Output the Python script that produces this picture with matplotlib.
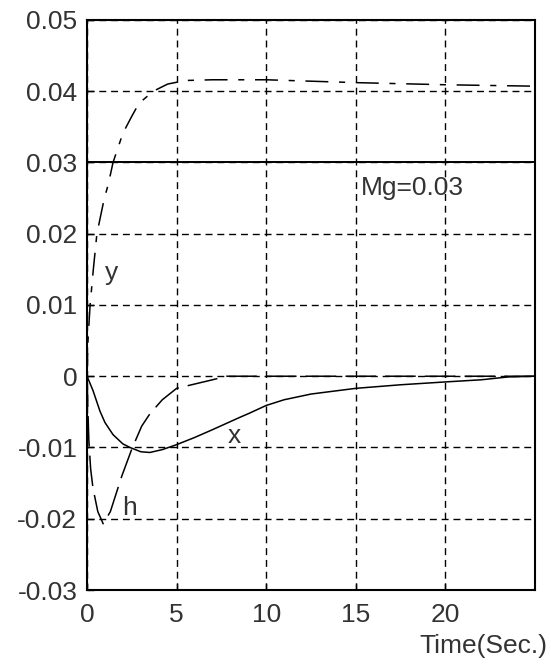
import matplotlib
matplotlib.use('Agg')
import matplotlib.pyplot as plt
import numpy as np

t_y = [0, 0.05, 0.17, 0.35, 0.55, 0.94, 1.2, 1.45, 2.0, 2.5, 2.9, 3.7, 4.5, 5.5, 7, 10, 15, 20, 25]
y_vals = [0, 0.005, 0.010, 0.015, 0.020, 0.0247, 0.0271, 0.030, 0.0341, 0.0365, 0.0383, 0.040,
          0.0410, 0.0415, 0.0416, 0.0416, 0.0412, 0.0409, 0.0407]

t_h = [0, 0.05, 0.1, 0.2, 0.33, 0.6, 0.9, 1.3, 1.94, 2.5, 3.05, 3.5, 4.2, 5.0, 6.0, 7.0, 7.8, 10, 15, 20, 25]
h_vals = [0, -0.005, -0.009, -0.013, -0.0157, -0.019, -0.0207, -0.019, -0.014, -0.0102, -0.0070,
          -0.0053, -0.0033, -0.0017, -0.0011, -0.0005, 0, 0, 0, 0, 0]

t_x = [0, 0.33, 0.72, 1.0, 1.45, 2.0, 2.4, 3.0, 3.5, 4.2, 5.0, 6.0, 7.0, 8.5, 9.05, 10, 11, 12.5,
       15, 17.5, 20, 22, 23.5, 25]
x_vals = [0, -0.002, -0.0049, -0.0065, -0.0082, -0.0095, -0.0100, -0.0106, -0.0107, -0.0103,
          -0.0096, -0.0086, -0.0075, -0.0058, -0.0052, -0.0041, -0.0033, -0.0025, -0.0017,
          -0.0012, -0.0008, -0.0005, -0.0001, 0]

mg = 0.03
xticks = [0, 5, 10, 15, 20]
yticks = [0.05, 0.04, 0.03, 0.02, 0.01, 0, -0.01, -0.02, -0.03]
ytick_labels = ['0.05', '0.04', '0.03', '0.02', '0.01', '0', '-0.01', '-0.02', '-0.03']

plt.rcParams['font.family'] = ['Liberation Sans', 'DejaVu Sans']
fs = 19
tc = '#333333'

fig = plt.figure(figsize=(5.51, 6.66), dpi=100)
ax = fig.add_axes([0.158, 0.1141, 0.813, 0.856])

ax.plot(t_y, y_vals, color='k', lw=1.1, dashes=(15, 7, 4, 7))
ax.plot(t_h, h_vals, color='k', lw=1.1, dashes=(20, 6))
ax.plot(t_x, x_vals, color='k', lw=1.1)
ax.axhline(mg, color='k', lw=1.4)

ax.set_xlim(0, 25)
ax.set_ylim(-0.03, 0.05)
ax.set_xticks(xticks)
ax.set_xticklabels([str(v) for v in xticks])
ax.set_yticks(yticks)
ax.set_yticklabels(ytick_labels)
ax.tick_params(direction='in', length=5, width=1, labelsize=fs, labelcolor=tc)
ax.tick_params(axis='x', pad=9)
ax.tick_params(axis='y', pad=7)
ax.grid(True, color='k', lw=1, dashes=(5, 3.5))
for s in ax.spines.values():
    s.set_linewidth(1.5)

ax.text(15.3, 0.0264, 'Mg=0.03', fontsize=fs, color=tc, ha='left', va='center')
ax.text(1.35, 0.0145, 'y', fontsize=fs, color=tc, ha='center', va='center')
ax.text(2.35, -0.0185, 'h', fontsize=fs, color=tc, ha='center', va='center')
ax.text(8.2, -0.0084, 'x', fontsize=fs, color=tc, ha='center', va='center')

fig.text(0.993, 0.030, 'Time(Sec.)', fontsize=fs, color=tc, ha='right', va='center')

fig.savefig('out.png', dpi=100)
